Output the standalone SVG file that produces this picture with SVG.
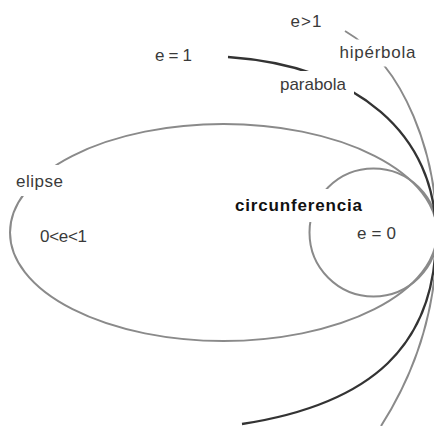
<svg xmlns="http://www.w3.org/2000/svg" width="434" height="426" viewBox="0 0 434 426">
<defs>
<style>
.lbl{font-family:"Liberation Sans",Arial,sans-serif;font-size:17px;fill:#3a3a3a}
.bold{font-weight:bold;fill:#111}
.gray{fill:none;stroke:#8a8a8a;stroke-width:2}
.dark{fill:none;stroke:#333;stroke-width:2.3}
</style>
<mask id="gaps" maskUnits="userSpaceOnUse" x="0" y="0" width="434" height="426">
<rect x="0" y="0" width="434" height="426" fill="#fff"/>
<rect x="276" y="71" width="78" height="27" fill="#000"/>
<rect x="336" y="39.5" width="82" height="27" fill="#000"/>
<rect x="10" y="165" width="60" height="31" fill="#000"/>
<rect x="230" y="189" width="136" height="33" fill="#000"/>
</mask>
</defs>
<rect width="434" height="426" fill="#fff"/>
<g id="connectors" mask="url(#gaps)">
<g id="elipse-curve"><ellipse class="gray" cx="223.5" cy="232.5" rx="213.5" ry="108.5"/></g>
<g id="circunferencia-curve"><circle class="gray" cx="373.5" cy="232.5" r="64"/></g>
<g id="parabola-curve">
<path class="dark" d="M436 235 C436 135 358 66.1 228 57"/>
<path class="dark" d="M436 235 C436 345 372 404 242 424"/>
</g>
<g id="hiperbola-curve">
<path class="gray" d="M437 235 C437 155 405 66 345 31"/>
<path class="gray" d="M437 235 C437 315 413 376 381 426"/>
</g>
</g>
<g id="label-e1"><text class="lbl" x="290.5" y="27" textLength="31" lengthAdjust="spacing">e&gt;1</text></g>
<g id="label-eq1"><text class="lbl" x="155" y="61" textLength="37" lengthAdjust="spacing">e = 1</text></g>
<g id="hiperbola"><text class="lbl" x="339.5" y="58" textLength="76" lengthAdjust="spacing">hipérbola</text></g>
<g id="parabola"><text class="lbl" x="280" y="90" textLength="66" lengthAdjust="spacing">parabola</text></g>
<g id="elipse"><text class="lbl" x="16" y="187" textLength="47" lengthAdjust="spacing">elipse</text></g>
<g id="label-e01"><text class="lbl" x="40" y="242" textLength="47" lengthAdjust="spacing">0&lt;e&lt;1</text></g>
<g id="circunferencia"><text class="lbl bold" x="235" y="211" textLength="127" lengthAdjust="spacing">circunferencia</text></g>
<g id="label-e0"><text class="lbl" x="357" y="239" textLength="39" lengthAdjust="spacing">e = 0</text></g>
</svg>
